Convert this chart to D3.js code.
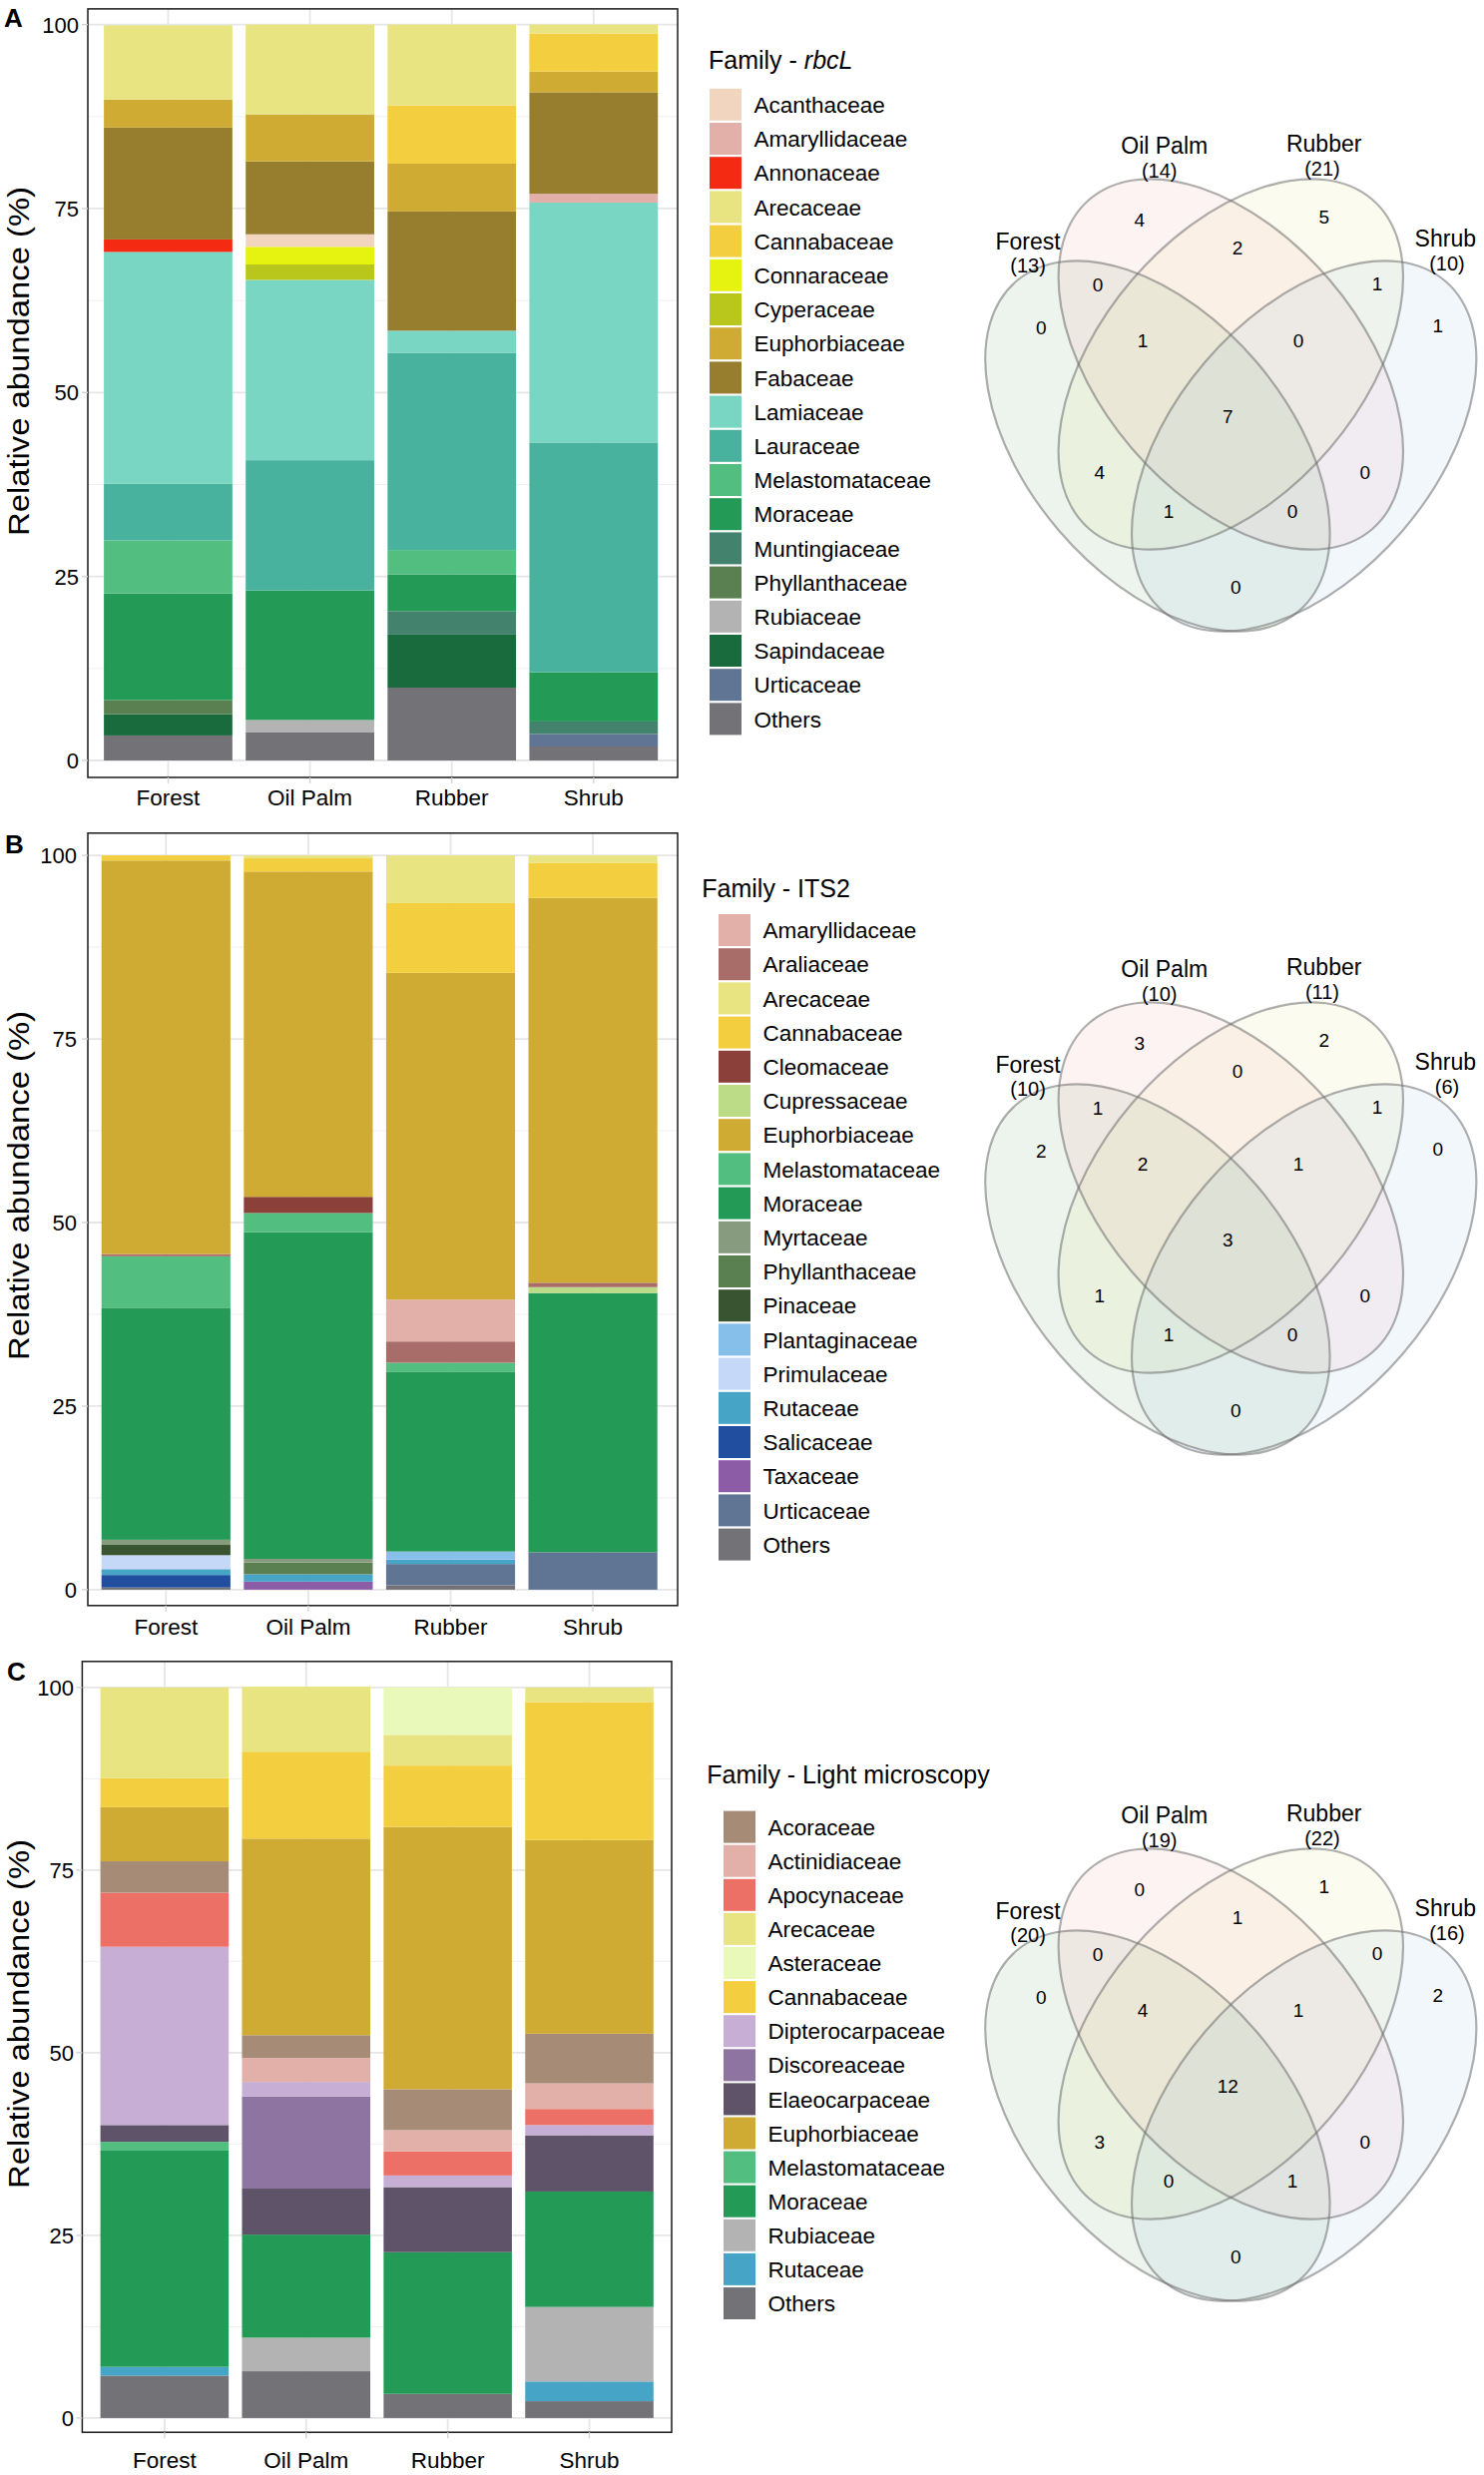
<!DOCTYPE html>
<html><head><meta charset="utf-8">
<script src="https://cdn.jsdelivr.net/npm/d3@7"></script>
<style>
body{margin:0;background:#fff}
text{font-family:"Liberation Sans",Arial,Helvetica,sans-serif;fill:#000}
</style></head>
<body><svg id="fig" width="1487" height="2480"></svg>
<script>
// ---------------- DATA ----------------
const sites = ["Forest", "Oil Palm", "Rubber", "Shrub"];
const yTicks = [0, 25, 50, 75, 100];
const yMinor = [12.5, 37.5, 62.5, 87.5];

// Panel A : rbcL
const familiesA = ["Acanthaceae","Amaryllidaceae","Annonaceae","Arecaceae","Cannabaceae","Connaraceae","Cyperaceae","Euphorbiaceae","Fabaceae","Lamiaceae","Lauraceae","Melastomataceae","Moraceae","Muntingiaceae","Phyllanthaceae","Rubiaceae","Sapindaceae","Urticaceae","Others"];
const coloursA = ["#f2d5bf","#e3afa9","#f42a13","#e8e482","#f3cf3f","#e6f20f","#b9c61c","#d0ab33","#977d2e","#78d6c2","#48b29e","#52bf80","#239a56","#43826c","#5a8052","#b3b3b3","#196b3d","#607494","#737277"];
const stackOrderA = ["Others","Urticaceae","Sapindaceae","Rubiaceae","Phyllanthaceae","Muntingiaceae","Moraceae","Melastomataceae","Lauraceae","Lamiaceae","Cyperaceae","Connaraceae","Acanthaceae","Annonaceae","Amaryllidaceae","Fabaceae","Euphorbiaceae","Cannabaceae","Arecaceae"];
const forestA  = [0,0,1.7,10.1,0,0,0,3.8,15.2,31.5,7.7,7.2,14.5,0,1.9,0,2.9,0,3.4];
const oilPalmA = [1.7,0,0,12.2,0,2.4,2.1,6.4,9.9,24.5,17.7,0,17.6,0,0,1.7,0,0,3.8];
const rubberA  = [0,0,0,11.0,7.9,0,0,6.5,16.2,3.0,26.8,3.3,5.0,3.2,0,0,7.2,0,9.9];
const shrubA   = [0,1.2,0,1.2,5.2,0,0,2.8,13.8,32.6,31.2,0,6.7,1.7,0,0,0,1.7,1.9];

// Panel B : ITS2
const familiesB = ["Amaryllidaceae","Araliaceae","Arecaceae","Cannabaceae","Cleomaceae","Cupressaceae","Euphorbiaceae","Melastomataceae","Moraceae","Myrtaceae","Phyllanthaceae","Pinaceae","Plantaginaceae","Primulaceae","Rutaceae","Salicaceae","Taxaceae","Urticaceae","Others"];
const coloursB = ["#e3afa9","#a86d68","#e8e482","#f3cf3f","#8b413a","#bcdc88","#d0ab33","#52bf80","#239a56","#879c7e","#5a8052","#385431","#86c0ea","#c6d8f7","#46a5c6","#224ea0","#8d5ca7","#607494","#737277"];
const stackOrderB = ["Others","Urticaceae","Taxaceae","Salicaceae","Rutaceae","Primulaceae","Plantaginaceae","Pinaceae","Phyllanthaceae","Myrtaceae","Moraceae","Melastomataceae","Cupressaceae","Cleomaceae","Araliaceae","Amaryllidaceae","Euphorbiaceae","Cannabaceae","Arecaceae"];
const forestB  = [0,0.3,0,0.7,0,0,53.6,7.0,31.6,0.7,0,1.4,0,1.9,0.8,1.7,0,0,0.3];
const oilPalmB = [0,0,0.4,1.8,2.2,0,44.3,2.6,44.5,0.5,1.6,0,0,0,1.0,0,1.1,0,0];
const rubberB  = [5.7,2.9,6.5,9.5,0,0,44.5,1.2,24.5,0,0,0,1.1,0,0.6,0,0,2.9,0.6];
const shrubB   = [0,0.6,1.0,4.8,0,0.8,52.4,0,35.3,0,0,0,0,0,0,0,0,5.1,0];

// Panel C : Light microscopy
const familiesC = ["Acoraceae","Actinidiaceae","Apocynaceae","Arecaceae","Asteraceae","Cannabaceae","Dipterocarpaceae","Discoreaceae","Elaeocarpaceae","Euphorbiaceae","Melastomataceae","Moraceae","Rubiaceae","Rutaceae","Others"];
const coloursC = ["#a68c77","#e3afa9","#ed7066","#e8e482","#e8f9b9","#f3cf3f","#c6aed5","#8e75a1","#5e5368","#d0ab33","#52bf80","#239a56","#b3b3b3","#46a5c6","#737277"];
const stackOrderC = ["Others","Rutaceae","Rubiaceae","Moraceae","Melastomataceae","Elaeocarpaceae","Discoreaceae","Dipterocarpaceae","Apocynaceae","Actinidiaceae","Acoraceae","Euphorbiaceae","Cannabaceae","Arecaceae","Asteraceae"];
const forestC  = [4.3,0,7.4,12.4,0,4.0,24.4,0,2.3,7.4,1.2,29.6,0,1.2,5.8];
const oilPalmC = [3.1,3.3,0,8.9,0,11.9,2.0,12.6,6.3,26.9,0,14.1,4.6,0,6.4];
const rubberC  = [5.6,2.9,3.3,4.2,6.5,8.4,1.6,0,8.9,35.9,0,19.4,0,0,3.3];
const shrubC   = [6.8,3.5,2.2,2.0,0,18.9,1.4,0,7.7,26.5,0,15.8,10.2,2.7,2.3];

// Venn diagrams (region order below)
const vennRegions = ["F","OP","R","S","OP&R","F&OP","R&S","F&OP&R","OP&R&S","F&OP&R&S","F&R","OP&S","F&R&S","F&OP&S","F&S"];
const vennCountsA = [0,4,5,1,2,0,1,1,0,7,4,0,1,0,0];
const vennCountsB = [2,3,2,0,0,1,1,2,1,3,1,0,1,0,0];
const vennCountsC = [0,0,1,2,1,0,0,4,1,12,3,0,0,1,0];
const vennTotalsA = [13,14,21,10];
const vennTotalsB = [10,10,11,6];
const vennTotalsC = [20,19,22,16];

// ---------------- LAYOUT ----------------
const FONT = '"Liberation Sans",Arial,Helvetica,sans-serif';
const svg = d3.select("#fig");
svg.append("rect").attr("width",1487).attr("height",2480).attr("fill","#fff");

function rows(famList, arrays){
  return sites.map((s,i)=>{
    const r={site:s};
    famList.forEach((f,j)=>{ r[f]=arrays[i][j]; });
    return r;
  });
}

function drawBarPanel(cfg){
  const g = svg.append("g");
  const x = d3.scaleBand().domain(sites).range([cfg.bx0, cfg.bx1]).paddingInner(0.094).paddingOuter(0);
  const y = d3.scaleLinear().domain([0,100]).range([cfg.y0, cfg.y100]);
  // grid
  g.selectAll(".gmin").data(yMinor).join("line")
    .attr("x1",cfg.px0).attr("x2",cfg.px1).attr("y1",d=>y(d)).attr("y2",d=>y(d))
    .attr("stroke","#f0f0f0").attr("stroke-width",1);
  g.selectAll(".gmaj").data(yTicks).join("line")
    .attr("x1",cfg.px0).attr("x2",cfg.px1).attr("y1",d=>y(d)).attr("y2",d=>y(d))
    .attr("stroke","#e6e6e6").attr("stroke-width",1.8);
  g.selectAll(".gx").data(sites).join("line")
    .attr("x1",d=>x(d)+x.bandwidth()/2).attr("x2",d=>x(d)+x.bandwidth()/2)
    .attr("y1",cfg.py0).attr("y2",cfg.py1)
    .attr("stroke","#e6e6e6").attr("stroke-width",1.8);
  // bars
  const data = rows(cfg.families, cfg.arrays);
  const color = d3.scaleOrdinal().domain(cfg.families).range(cfg.colours);
  const series = d3.stack().keys(cfg.stackOrder)(data);
  g.selectAll(".ser").data(series).join("g").attr("fill",d=>color(d.key))
    .selectAll("rect").data(d=>d.filter(v=>v[1]-v[0]>0)).join("rect")
    .attr("x",d=>x(d.data.site)).attr("width",x.bandwidth())
    .attr("y",d=>y(d[1])).attr("height",d=>y(d[0])-y(d[1]));
  // border
  g.append("rect").attr("x",cfg.px0).attr("y",cfg.py0)
    .attr("width",cfg.px1-cfg.px0).attr("height",cfg.py1-cfg.py0)
    .attr("fill","none").attr("stroke","#1a1a1a").attr("stroke-width",1.5);
  // ticks
  g.selectAll(".ty").data(yTicks).join("line")
    .attr("x1",cfg.px0-6).attr("x2",cfg.px0).attr("y1",d=>y(d)).attr("y2",d=>y(d))
    .attr("stroke","#d4d4d4").attr("stroke-width",1.4);
  g.selectAll(".tx").data(sites).join("line")
    .attr("x1",d=>x(d)+x.bandwidth()/2).attr("x2",d=>x(d)+x.bandwidth()/2)
    .attr("y1",cfg.py1).attr("y2",cfg.py1+6)
    .attr("stroke","#d4d4d4").attr("stroke-width",1.4);
  // tick labels
  g.selectAll(".yl").data(yTicks).join("text")
    .attr("x",cfg.tickX).attr("y",d=>y(d)).attr("dy","0.36em")
    .attr("text-anchor","end").attr("font-size",22).text(d=>d);
  g.selectAll(".xl").data(sites).join("text")
    .attr("x",d=>x(d)+x.bandwidth()/2).attr("y",cfg.xLabY)
    .attr("text-anchor","middle").attr("font-size",22.5).text(d=>d);
  // axis title
  g.append("text").attr("transform",`translate(29,${cfg.titleY}) rotate(-90)`)
    .attr("text-anchor","middle").attr("font-size",30)
    .attr("textLength",350).attr("lengthAdjust","spacingAndGlyphs")
    .text("Relative abundance (%)");
  // panel letter
  g.append("text").attr("x",cfg.letterX).attr("y",cfg.letterY)
    .attr("font-size",26).attr("font-weight","bold").text(cfg.letter);
  // legend
  const lg = svg.append("g");
  const tt = lg.append("text").attr("x",cfg.lgTitleX).attr("y",cfg.lgTitleY).attr("font-size",25);
  tt.append("tspan").text(cfg.lgTitle);
  if(cfg.lgTitleItalic) tt.append("tspan").attr("font-style","italic").text(cfg.lgTitleItalic);
  const ly = d3.scaleLinear().domain([0,1]).range([cfg.lgY0, cfg.lgY0+cfg.lgStep]);
  const items = lg.selectAll(".li").data(cfg.families).join("g");
  items.append("rect").attr("x",cfg.lgX).attr("y",(d,i)=>ly(i))
    .attr("width",32).attr("height",32).attr("fill",d=>color(d));
  items.append("text").attr("x",cfg.lgX+44.5).attr("y",(d,i)=>ly(i)+16).attr("dy","0.36em")
    .attr("font-size",22.5).text(d=>d);
}

drawBarPanel({letter:"A",letterX:4,letterY:27,
  px0:88,px1:679,py0:8.9,py1:779,bx0:104.1,bx1:659.2,y0:762,y100:24.6,
  tickX:79,xLabY:807,titleY:362,
  families:familiesA,colours:coloursA,stackOrder:stackOrderA,arrays:[forestA,oilPalmA,rubberA,shrubA],
  lgTitle:"Family - ",lgTitleItalic:"rbcL",lgTitleX:710,lgTitleY:68.5,lgX:711,lgY0:88.8,lgStep:34.2});

drawBarPanel({letter:"B",letterX:5,letterY:855,
  px0:88,px1:679,py0:834.8,py1:1608.8,bx0:101.7,bx1:658.7,y0:1592.9,y100:857.1,
  tickX:77,xLabY:1638,titleY:1188,
  families:familiesB,colours:coloursB,stackOrder:stackOrderB,arrays:[forestB,oilPalmB,rubberB,shrubB],
  lgTitle:"Family - ITS2",lgTitleItalic:null,lgTitleX:703.3,lgTitleY:898.5,lgX:720,lgY0:916,lgStep:34.2});

drawBarPanel({letter:"C",letterX:7,letterY:1684,
  px0:82.4,px1:673,py0:1664.8,py1:2437.2,bx0:100.6,bx1:654.8,y0:2422.9,y100:1690.8,
  tickX:74,xLabY:2473,titleY:2018,
  families:familiesC,colours:coloursC,stackOrder:stackOrderC,arrays:[forestC,oilPalmC,rubberC,shrubC],
  lgTitle:"Family - Light microscopy",lgTitleItalic:null,lgTitleX:708.3,lgTitleY:1787,lgX:725,lgY0:1814.6,lgStep:34.1});

// ---------------- VENN ----------------
const vennSets = [
  {name:"Forest",  dx:-73.4, dy:82, rot: 49.4, fill:"#5a9a5a", op:0.11},
  {name:"Oil Palm",dx:0,     dy:0,  rot: 49.4, fill:"#f07a7a", op:0.09},
  {name:"Rubber",  dx:0,     dy:0,  rot:-49.4, fill:"#d6d66c", op:0.10},
  {name:"Shrub",   dx:73.4,  dy:82, rot:-49.4, fill:"#6aa6dc", op:0.09}
];
const vennRX = 217.6, vennRY = 130.1;
const vennLabelPos = {"F":[-190,-37],"OP":[-91.6,-145],"R":[93.4,-147.5],"S":[207.4,-38.6],
  "OP&R":[6.7,-116.4],"F&OP":[-133.3,-80],"R&S":[146.7,-81],"F&OP&R":[-88.3,-23.4],"OP&R&S":[67.7,-23.4],
  "F&OP&R&S":[-3,52],"F&R":[-131.6,108.4],"OP&S":[134.4,108.4],"F&R&S":[-62.3,147.3],"F&OP&S":[61.7,147.3],"F&S":[5,223.4]};
const vennNamePos = [[-203.3,-123.2],[-66.6,-219.5],[93.4,-221.2],[215,-126.5]];
const vennTotPos  = [[-203.3,-99.5],[-71.6,-194.1],[91.7,-195.8],[216.7,-101.2]];

function drawVenn(cx, cy, counts, totals){
  const g = svg.append("g").attr("transform",`translate(${cx},${cy})`);
  g.selectAll(".vf").data(vennSets).join("ellipse")
    .attr("transform",d=>`translate(${d.dx},${d.dy}) rotate(${d.rot})`)
    .attr("rx",vennRX).attr("ry",vennRY)
    .attr("fill",d=>d.fill).attr("fill-opacity",d=>d.op).attr("stroke","none");
  g.selectAll(".vs").data(vennSets).join("ellipse")
    .attr("transform",d=>`translate(${d.dx},${d.dy}) rotate(${d.rot})`)
    .attr("rx",vennRX).attr("ry",vennRY)
    .attr("fill","none").attr("stroke","#6e6e6e").attr("stroke-opacity",0.55).attr("stroke-width",2.2);
  g.selectAll(".vn").data(vennRegions).join("text")
    .attr("x",d=>vennLabelPos[d][0]).attr("y",d=>vennLabelPos[d][1]).attr("dy","0.36em")
    .attr("text-anchor","middle").attr("font-size",19).text((d,i)=>counts[i]);
  g.selectAll(".vl").data(vennSets).join("text")
    .attr("x",(d,i)=>vennNamePos[i][0]).attr("y",(d,i)=>vennNamePos[i][1]).attr("dy","0.36em")
    .attr("text-anchor","middle").attr("font-size",23).text(d=>d.name);
  g.selectAll(".vt").data(vennSets).join("text")
    .attr("x",(d,i)=>vennTotPos[i][0]).attr("y",(d,i)=>vennTotPos[i][1]).attr("dy","0.36em")
    .attr("text-anchor","middle").attr("font-size",20).text((d,i)=>`(${totals[i]})`);
}
drawVenn(1233.3, 365, vennCountsA, vennTotalsA);
drawVenn(1233.3, 1190, vennCountsB, vennTotalsB);
drawVenn(1233.3, 2038, vennCountsC, vennTotalsC);
</script></body></html>
